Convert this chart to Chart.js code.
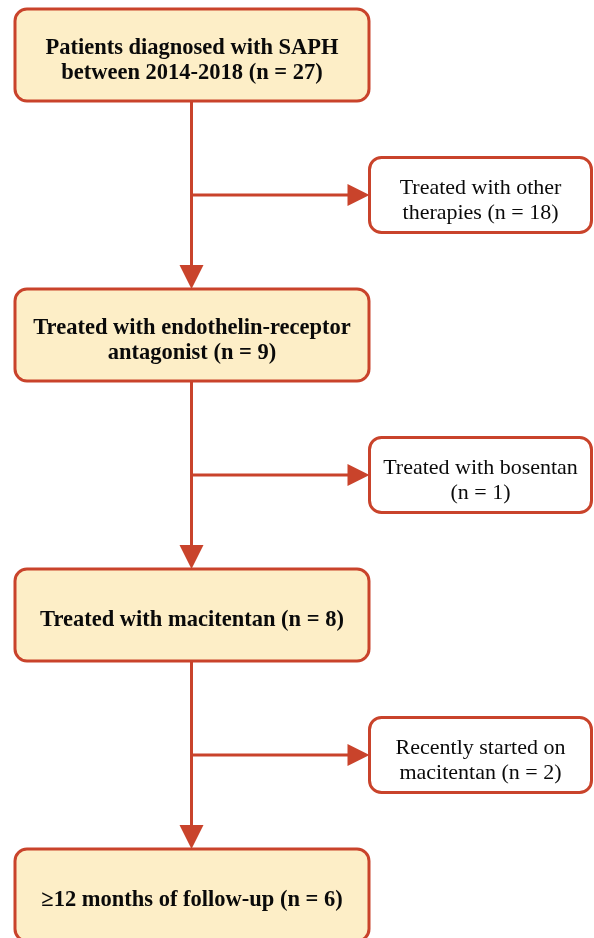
<!DOCTYPE html>
<html>
<head>
<meta charset="utf-8">
<script src="https://cdn.jsdelivr.net/npm/chart.js@4.4.1/dist/chart.umd.min.js"></script>
<style>
  html, body { margin: 0; padding: 0; background: #ffffff; }
  #wrap { width: 594px; height: 938px; position: relative; }
</style>
</head>
<body>
<div id="wrap"><canvas id="c" width="594" height="938"></canvas></div>
<script>
// ---- Data (flow counts) ----
const stepLabels = [
  "Patients diagnosed with SAPH between 2014-2018",
  "Treated with endothelin-receptor antagonist",
  "Treated with macitentan",
  "\u226512 months of follow-up"
];
const stepCounts = [27, 9, 8, 6];
const exclusionLabels = [
  "Treated with other therapies",
  "Treated with bosentan",
  "Recently started on macitentan"
];
const exclusionCounts = [18, 1, 2];

// ---- Styles ----
const BORDER = "#c9432b";
const MAIN_FILL = "#fdeec7";
const SIDE_FILL = "#ffffff";
const TEXT = "#0a0a0a";
const FONT_FAMILY = "'Liberation Serif', 'Times New Roman', serif";

function wrapTokens(ctx, text, countToken, maxWidth) {
  const tokens = text.split(" ").concat([countToken]);
  const lines = [];
  let cur = "";
  tokens.forEach(t => {
    const test = cur ? cur + " " + t : t;
    if (cur && ctx.measureText(test).width > maxWidth) {
      lines.push(cur);
      cur = t;
    } else {
      cur = test;
    }
  });
  if (cur) lines.push(cur);
  return lines;
}

function roundRect(ctx, x, y, w, h, r) {
  ctx.beginPath();
  ctx.moveTo(x + r, y);
  ctx.lineTo(x + w - r, y);
  ctx.arcTo(x + w, y, x + w, y + r, r);
  ctx.lineTo(x + w, y + h - r);
  ctx.arcTo(x + w, y + h, x + w - r, y + h, r);
  ctx.lineTo(x + r, y + h);
  ctx.arcTo(x, y + h, x, y + h - r, r);
  ctx.lineTo(x, y + r);
  ctx.arcTo(x, y, x + r, y, r);
  ctx.closePath();
}

const flowPlugin = {
  id: "flow",
  afterDatasetsDraw(chart, args, opts) {
    const ctx = chart.ctx;
    const mainMeta = chart.getDatasetMeta(0).data;
    const sideMeta = chart.getDatasetMeta(1).data;
    const mw = opts.mainW, mh = opts.mainH, sw = opts.sideW, sh = opts.sideH;
    ctx.save();
    ctx.strokeStyle = BORDER;
    ctx.fillStyle = BORDER;
    ctx.lineWidth = 3;

    // trunk connectors between main boxes
    for (let i = 0; i < mainMeta.length - 1; i++) {
      const a = mainMeta[i], b = mainMeta[i + 1];
      const x = a.x - 0.5;
      const y0 = a.y + mh / 2;
      const y1 = b.y - mh / 2;
      ctx.beginPath();
      ctx.moveTo(x, y0);
      ctx.lineTo(x, y1 - 20);
      ctx.stroke();
      ctx.beginPath();
      ctx.moveTo(x - 12, y1 - 24);
      ctx.lineTo(x + 12, y1 - 24);
      ctx.lineTo(x, y1);
      ctx.closePath();
      ctx.fill();
    }
    // branch connectors to side boxes
    sideMeta.forEach((s, i) => {
      const x0 = mainMeta[i].x - 0.5;
      const xt = s.x - sw / 2;
      ctx.beginPath();
      ctx.moveTo(x0, s.y);
      ctx.lineTo(xt - 18, s.y);
      ctx.stroke();
      ctx.beginPath();
      ctx.moveTo(xt - 22, s.y - 11);
      ctx.lineTo(xt - 22, s.y + 11);
      ctx.lineTo(xt, s.y);
      ctx.closePath();
      ctx.fill();
    });

    // boxes
    const drawBox = (el, w, h, fill, lines, font, lh) => {
      roundRect(ctx, el.x - w / 2, el.y - h / 2, w, h, 12);
      ctx.fillStyle = fill;
      ctx.fill();
      ctx.lineWidth = 3;
      ctx.strokeStyle = BORDER;
      ctx.stroke();
      ctx.fillStyle = TEXT;
      ctx.font = font;
      ctx.textAlign = "center";
      ctx.textBaseline = "alphabetic";
      const first = el.y + 11 - (lines.length - 1) * lh / 2;
      lines.forEach((ln, k) => ctx.fillText(ln, el.x, first + k * lh));
    };

    const mainFont = "bold 22.5px " + FONT_FAMILY;
    const sideFont = "22px " + FONT_FAMILY;
    mainMeta.forEach((el, i) => {
      ctx.font = mainFont;
      const lines = wrapTokens(ctx, stepLabels[i], "(n = " + stepCounts[i] + ")", 335);
      drawBox(el, mw, mh, MAIN_FILL, lines, mainFont, 25);
    });
    sideMeta.forEach((el, i) => {
      ctx.font = sideFont;
      const lines = wrapTokens(ctx, exclusionLabels[i], "(n = " + exclusionCounts[i] + ")", 205);
      drawBox(el, sw, sh, SIDE_FILL, lines, sideFont, 25);
    });
    ctx.restore();
  }
};

new Chart(document.getElementById("c"), {
  type: "scatter",
  data: {
    datasets: [
      { label: "Flow steps", data: stepCounts.map((n, i) => ({ x: 0, y: i, n })), pointRadius: 0 },
      { label: "Excluded", data: exclusionCounts.map((n, i) => ({ x: 1, y: i + 0.5, n })), pointRadius: 0 }
    ]
  },
  options: {
    responsive: false,
    animation: false,
    events: [],
    layout: { padding: 0 },
    plugins: {
      legend: { display: false },
      tooltip: { enabled: false },
      flow: { mainW: 354, mainH: 92, sideW: 222, sideH: 75 }
    },
    scales: {
      x: { type: "linear", display: false, min: -0.6655, max: 1.3934 },
      y: { type: "linear", display: false, reverse: true, min: -0.19643, max: 3.15357 }
    }
  },
  plugins: [flowPlugin]
});
</script>
</body>
</html>
